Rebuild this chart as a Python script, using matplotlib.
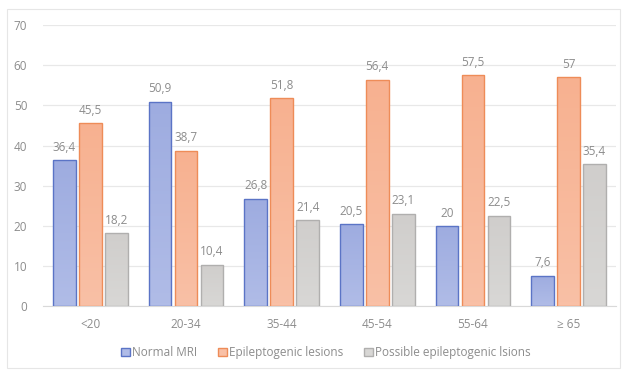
import numpy as np
import matplotlib
matplotlib.use("Agg")
import matplotlib.pyplot as plt
from matplotlib.colors import LinearSegmentedColormap
from matplotlib.patches import Rectangle

plt.rcParams['font.family'] = ['Open Sans', 'DejaVu Sans']

age_groups = ['<20', '20-34', '35-44', '45-54', '55-64', '≥ 65']
normal_mri = [36.4, 50.9, 26.8, 20.5, 20, 7.6]
epileptogenic = [45.5, 38.7, 51.8, 56.4, 57.5, 57]
possible = [18.2, 10.4, 21.4, 23.1, 22.5, 35.4]
series_names = ['Normal MRI', 'Epileptogenic lesions', 'Possible epileptogenic lsions']

# (top colour, bottom colour, edge colour)
styles = [
    ('#9eace0', '#b0bce7', '#5b74c6'),
    ('#f7b190', '#f9c0a6', '#ee8c58'),
    ('#d0cecc', '#d8d7d5', '#b0afae'),
]
text_col = '#8c8c8c'

fig = plt.figure(figsize=(6.27, 3.71), dpi=100)
ax = fig.add_axes([0.068, 0.174, 0.915, 0.759])

# outer chart frame
fig.patches.append(Rectangle((7 / 627, 3 / 371), 613 / 627, 359 / 371,
                             transform=fig.transFigure, fill=False,
                             edgecolor='#e6e6e6', linewidth=0.8))

x = np.arange(len(age_groups))
width = 0.235
step = 0.272


def gradient_bar(xc, h, top, bottom, edge):
    bar = ax.bar(xc, h, width, facecolor='none', edgecolor=edge,
                 linewidth=1.0, zorder=3)[0]
    cmap = LinearSegmentedColormap.from_list('g', [bottom, top])
    img = ax.imshow(np.linspace(0, 1, 64).reshape(-1, 1), cmap=cmap,
                    origin='lower', aspect='auto', zorder=2,
                    extent=(xc - width / 2, xc + width / 2, 0, h))
    img.set_clip_path(bar)
    return bar


def fmt(v):
    return f'{v:g}'.replace('.', ',')


for i, (vals, (top, bottom, edge)) in enumerate(zip([normal_mri, epileptogenic, possible], styles)):
    for xi, v in zip(x, vals):
        xc = xi + (i - 1) * step
        gradient_bar(xc, v, top, bottom, edge)
        ax.text(xc, v + 1.6, fmt(v), ha='center', va='bottom',
                fontsize=8.5, color=text_col)

ax.set_xlim(-0.5, len(age_groups) - 0.5)
ax.set_ylim(0, 70)
ax.set_yticks(range(0, 71, 10))
ax.set_xticks(x)
ax.set_xticklabels(age_groups)
ax.tick_params(axis='both', length=0, labelsize=8.5, labelcolor=text_col)
ax.tick_params(axis='y', pad=11)
ax.tick_params(axis='x', pad=8)
ax.grid(axis='y', color='#e8e8e8', linewidth=0.9, zorder=0)
ax.set_axisbelow(True)
for s in ['top', 'right', 'left']:
    ax.spines[s].set_visible(False)
ax.spines['bottom'].set_color('#d9d9d9')

handles = [Rectangle((0, 0), 1, 1, facecolor=st[1], edgecolor=st[2], linewidth=1.0)
           for st in styles]
fig.legend(handles, series_names, loc='center', bbox_to_anchor=(0.52, 0.05),
           ncol=3, frameon=False, fontsize=8.5, labelcolor=text_col,
           handlelength=0.7, handleheight=0.7, handletextpad=0.2,
           columnspacing=1.8)

fig.savefig('out.png', dpi=100)
